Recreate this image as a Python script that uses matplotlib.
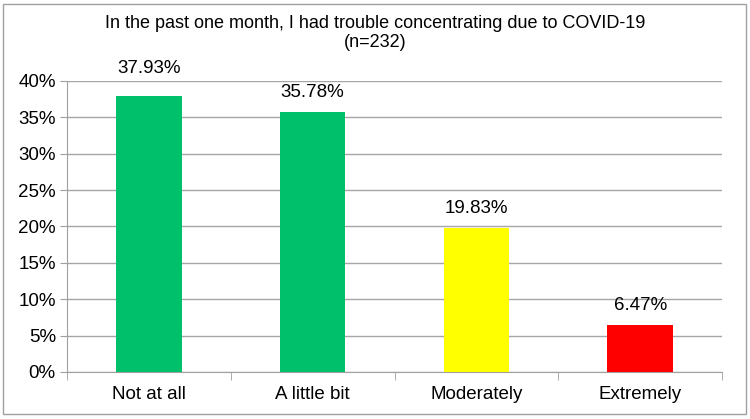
import matplotlib
matplotlib.use("Agg")
import matplotlib.pyplot as plt
from matplotlib.patches import Rectangle
from matplotlib.ticker import PercentFormatter

categories = ["Not at all", "A little bit", "Moderately", "Extremely"]
values = [37.93, 35.78, 19.83, 6.47]
colors = ["#00c06b", "#00c06b", "#ffff00", "#ff0000"]
label_offsets = [14, 8, 8, 8]  # points above bar top
title = "In the past one month, I had trouble concentrating due to COVID-19\n(n=232)"

plt.rcParams["font.family"] = ["Liberation Sans", "DejaVu Sans"]

fig = plt.figure(figsize=(7.5, 4.19), dpi=100)
ax = fig.add_axes([0.0893, 0.1122, 0.8734, 0.6945])

x = range(len(categories))
ax.bar(x, values, width=0.4, color=colors, zorder=3)
for xi, v, off in zip(x, values, label_offsets):
    ax.annotate(f"{v:.2f}%", (xi, v), textcoords="offset points", xytext=(0, off),
                ha="center", va="bottom", fontsize=13.5, color="#000000")

ax.set_xlim(-0.5, len(categories) - 0.5)
ax.set_ylim(0, 40)
ax.set_yticks(range(0, 41, 5))
ax.yaxis.set_major_formatter(PercentFormatter(decimals=0))
ax.set_xticks(list(x))
ax.set_xticklabels(categories)
ax.set_xticks([i - 0.5 for i in range(len(categories) + 1)], minor=True)
ax.tick_params(axis="x", which="major", length=0, labelsize=13.5, pad=10)
ax.tick_params(axis="x", which="minor", length=6, color="#a0a0a0")
ax.tick_params(axis="y", length=5, color="#a0a0a0", labelsize=13.5, pad=3)
ax.grid(axis="y", color="#a6a6a6", linewidth=1, zorder=0)
for s in ["top", "right"]:
    ax.spines[s].set_visible(False)
for s in ["left", "bottom"]:
    ax.spines[s].set_color("#a0a0a0")

fig.text(0.500, 0.965, title, ha="center", va="top", fontsize=13, linespacing=1.15)

fig.patches.append(Rectangle((0.004, 0.012), 0.99, 0.978, transform=fig.transFigure,
                             fill=False, edgecolor="#a0a0a0", linewidth=1))

fig.savefig("out.png", dpi=100)
